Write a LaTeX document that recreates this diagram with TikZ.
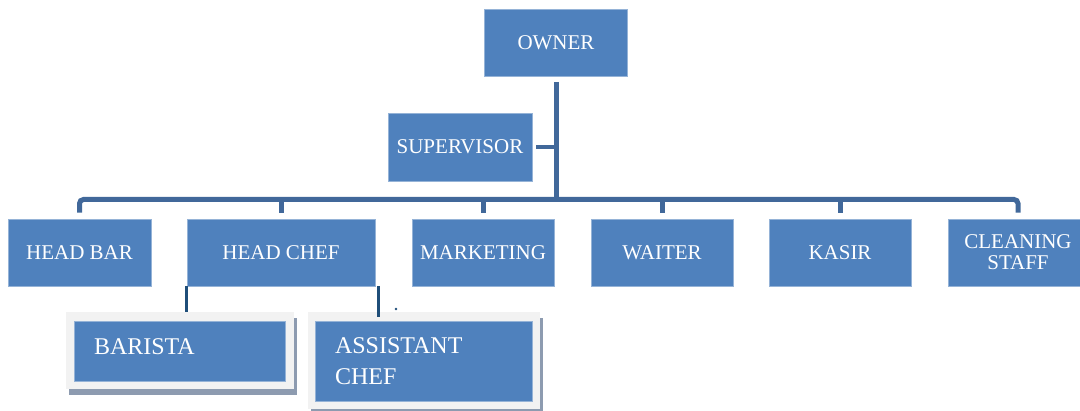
\documentclass[tikz,border=0pt]{standalone}
\usepackage{fontspec}
\setmainfont{Liberation Serif}
\usetikzlibrary{positioning, shadows, calc}
\definecolor{boxblue}{HTML}{4F81BD}
\definecolor{lineblue}{HTML}{41689A}
\definecolor{darkline}{HTML}{1F4E79}
\definecolor{framegray}{HTML}{F2F2F2}
\definecolor{shadowgray}{HTML}{8D9BB0}
\tikzset{
  block/.style={
    draw=boxblue!60!white,
    line width=0.8pt,
    rectangle,
    fill=boxblue,
    text=white,
    align=center,
    inner sep=2pt,
    font=\fontsize{21}{23}\selectfont
  },
  subblock/.style={
    block,
    align=left,
    inner xsep=20pt,
    font=\fontsize{24}{31}\selectfont
  },
  frame/.style={
    rectangle,
    fill=framegray,
    draw=none,
    drop shadow={shadow xshift=2.5pt, shadow yshift=-6.5pt, fill=shadowgray, opacity=1}
  },
  conn/.style={
    draw=lineblue,
    line width=5pt
  },
  subconn/.style={
    draw=darkline,
    line width=2.5pt
  }
}

\begin{document}
\begin{tikzpicture}[x=1pt, y=-1pt]
    \useasboundingbox (0,0) rectangle (1080,411);

    \node[block, minimum width=143pt, minimum height=67pt] (owner) at (556,43) {OWNER};
    \node[block, minimum width=144pt, minimum height=68pt] (sup) at (460,147) {SUPERVISOR};

    \node[block, minimum width=143pt, minimum height=67pt] (headbar) at (79.5,252.5) {HEAD BAR};
    \node[block, minimum width=188pt, minimum height=67pt] (headchef) at (281,252.5) {HEAD CHEF};
    \node[block, minimum width=142pt, minimum height=67pt] (marketing) at (483,252.5) {MARKETING};
    \node[block, minimum width=142pt, minimum height=67pt] (waiter) at (662,252.5) {WAITER};
    \node[block, minimum width=142pt, minimum height=67pt] (kasir) at (840,252.5) {KASIR};
    \node[block, minimum width=140pt, minimum height=67pt] (cleaning) at (1018,252.5) {CLEANING\\[-2pt]STAFF};

    \node[frame, minimum width=228pt, minimum height=77pt] (barframe) at (180,350.5) {};
    \node[subblock, minimum width=211pt, minimum height=60pt, text width=171pt, text depth=8pt] (barista) at (179.5,351) {BARISTA};
    \node[frame, minimum width=232pt, minimum height=97pt] (asstframe) at (424,360.5) {};
    \node[subblock, minimum width=217pt, minimum height=80pt, text width=177pt] (asst) at (423.5,361) {ASSISTANT\\CHEF};

    \coordinate (bus) at (556,199.5);
    \coordinate (dot) at (396,309);

    \draw[conn, shorten <=5pt] (owner.south) -- (owner.south |- bus);
    \draw[conn, line width=4pt, shorten <=4pt] (sup.east) -- (sup.east -| owner.south);
    \draw[conn, rounded corners=4pt] ([yshift=6pt]headbar.north) -- (headbar.north |- bus) -- (cleaning.north |- bus) -- ([yshift=6pt]cleaning.north);
    \foreach \n in {headchef, marketing, waiter, kasir}
        \draw[conn] (\n.north |- bus) -- ([yshift=6pt]\n.north);

    \draw[subconn] (headchef.south west) -- (headchef.south west |- barframe.north);
    \draw[subconn] ([xshift=3pt]headchef.south east) -- ([xshift=3pt, yshift=4pt]headchef.south east |- asst.north);
    \fill[darkline] (dot) circle (1.3);
\end{tikzpicture}
\end{document}
